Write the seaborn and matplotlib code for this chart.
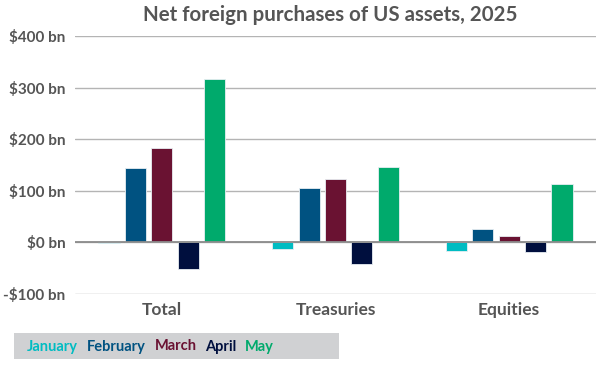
import pandas as pd
import matplotlib
matplotlib.use('Agg')
import matplotlib.pyplot as plt
from matplotlib.patches import Rectangle
from matplotlib.lines import Line2D
import seaborn as sns

# data ($ bn)
categories = ['Total', 'Treasuries', 'Equities']
months = ['January', 'February', 'March', 'April', 'May']
january = [-1, -13, -17]
february = [144, 106, 25]
march = [183, 122, 12]
april = [-52, -41, -19]
may = [317, 146, 114]
colors = ['#00BCC2', '#005281', '#6A1232', '#000F3E', '#00AA6C']
yticks = [-100, 0, 100, 200, 300, 400]

rows = []
for m, vals in zip(months, [january, february, march, april, may]):
    for c, v in zip(categories, vals):
        rows.append({'category': c, 'month': m, 'value': v})
df = pd.DataFrame(rows)

sns.set_style('white')
plt.rcParams['font.family'] = ['Lato', 'DejaVu Sans']
text_col = '#555555'

fig = plt.figure(figsize=(6.01, 3.72), dpi=100)
ax = fig.add_axes([75 / 601, 1 - 294 / 372, 521 / 601, 258 / 372])

sns.barplot(data=df, x='category', y='value', hue='month', hue_order=months,
            palette=colors, width=0.76, gap=0.2, ax=ax, legend=False,
            edgecolor='#e8eef2', linewidth=0.6, saturation=1, zorder=3)

ax.set_ylim(-100, 400)
ax.set_yticks(yticks)
ax.set_yticklabels([f'-${-v} bn' if v < 0 else f'${v} bn' for v in yticks],
                   fontsize=11, fontweight='bold', color=text_col)
ax.tick_params(axis='y', length=0, pad=7)
ax.tick_params(axis='x', length=0, pad=6, labelsize=12.5, labelcolor=text_col)
for t in ax.get_xticklabels():
    t.set_fontweight('bold')
ax.set_xlabel('')
ax.set_ylabel('')
ax.grid(axis='y', color='#b4b4b4', linewidth=1, zorder=0)
ax.axhline(0, color='#8c8c8c', linewidth=1.3, zorder=4)
for s in ax.spines.values():
    s.set_visible(False)

fig.text(330 / 601, 1 - 15 / 372, 'Net foreign purchases of US assets, 2025',
         ha='center', va='center', fontsize=14.8, fontweight='bold', color=text_col)

# legend strip
fig.patches.append(Rectangle((14 / 601, 1 - 359 / 372), 325 / 601, 26 / 372,
                             transform=fig.transFigure, facecolor='#d0d1d3',
                             edgecolor='none'))
handles = [Line2D([], [], linestyle='none') for _ in months]
leg = fig.legend(handles, months, loc='center left',
                 bbox_to_anchor=(14 / 601, 1 - 346.5 / 372), ncol=5,
                 frameon=False, handlelength=0, handletextpad=0,
                 columnspacing=0.6, labelcolor=colors,
                 prop={'weight': 'bold', 'size': 10.5})

fig.savefig('out.png', dpi=100)
